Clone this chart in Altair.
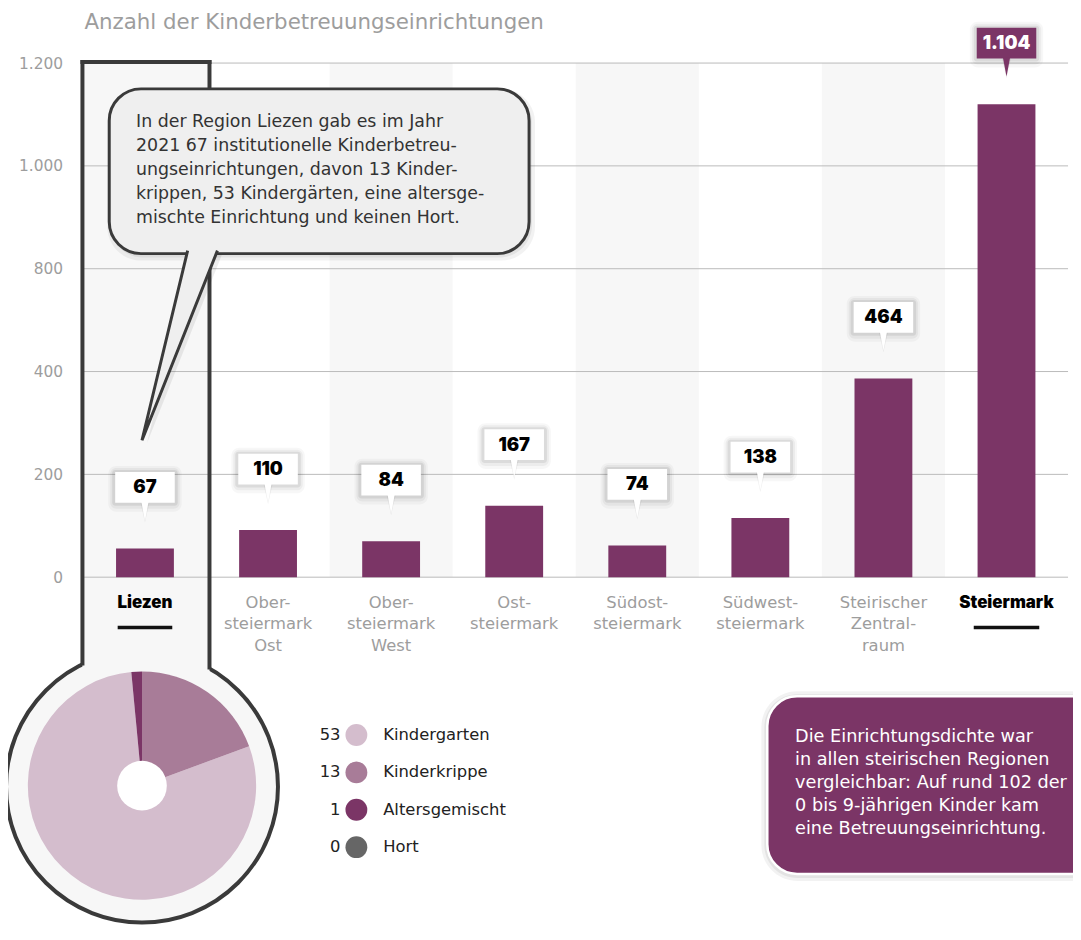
import json
import altair as alt
import pandas as pd

# ---------------- data ----------------
regions = ["Liezen", "Obersteiermark Ost", "Obersteiermark West", "Oststeiermark",
           "Südoststeiermark", "Südweststeiermark", "Steirischer Zentralraum", "Steiermark"]
region_labels = ["Liezen", "Ober-\nsteiermark\nOst", "Ober-\nsteiermark\nWest", "Ost-\nsteiermark",
                 "Südost-\nsteiermark", "Südwest-\nsteiermark", "Steirischer\nZentral-\nraum", "Steiermark"]
facilities = [67, 110, 84, 167, 74, 138, 464, 1104]
facility_labels = ["67", "110", "84", "167", "74", "138", "464", "1.104"]
highlighted = ["Liezen", "Steiermark"]
shaded = ["Obersteiermark West", "Südoststeiermark", "Steirischer Zentralraum"]

y_tick_positions = [0, 240, 480, 720, 960, 1200]
y_tick_labels = ["0", "200", "400", "800", "1.000", "1.200"]

types = ["Kindergarten", "Kinderkrippe", "Altersgemischt", "Hort"]
type_counts = [53, 13, 1, 0]
pie_order = [2, 1, 3, 4]

title_text = "Anzahl der Kinderbetreuungseinrichtungen"
bubble_text = ("In der Region Liezen gab es im Jahr\n2021 67 institutionelle Kinderbetreu-\n"
               "ungseinrichtungen, davon 13 Kinder-\nkrippen, 53 Kindergärten, eine altersge-\n"
               "mischte Einrichtung und keinen Hort.")
note_text = ("Die Einrichtungsdichte war\nin allen steirischen Regionen\nvergleichbar: Auf rund 102 der\n"
             "0 bis 9-jährigen Kinder kam\neine Betreuungseinrichtung.")

# ---------------- styles ----------------
FONT = "DejaVu Sans"
BOLD_FONT = "Inter"
PURPLE = "#7b3566"
type_colors = ["#d4bdcd", "#a87c98", "#7b3566", "#666666"]
DARK = "#3a3a3a"
GRAY_TXT = "#9d9d9d"
PANEL = "#f7f7f7"
BUBBLE = "#efefef"

df = pd.DataFrame({"region": regions, "label": region_labels, "n": facilities, "n_label": facility_labels})
dft = pd.DataFrame({"type": types, "count": type_counts, "order": pie_order})
one = pd.DataFrame({"k": [0]})

label_expr = " : ".join(f"datum.value == {p} ? '{l}'" for p, l in zip(y_tick_positions, y_tick_labels)) + " : ''"
YAX = alt.Axis(values=y_tick_positions, labelExpr=label_expr, grid=False, domain=False, ticks=False,
               labelPadding=21, labelFontSize=15.5, labelColor=GRAY_TXT, labelFont=FONT,
               labelFlush=False, title=None)

X = alt.X("region:N", sort=regions,
          scale=alt.Scale(domain=regions, paddingInner=0.53, paddingOuter=0.265), axis=None)
YS = alt.Scale(domain=[0, 1200], nice=False, zero=True)
Y = alt.Y("n:Q", scale=YS, axis=YAX)
Y2 = alt.Y2("n")
COLOR = alt.Color("type:N", scale=alt.Scale(domain=types, range=type_colors), legend=None)

hl_test = f"indexof({json.dumps(highlighted)}, datum.region) >= 0"
sh_test = f"indexof({json.dumps(shaded)}, datum.region) >= 0"


def deco():
    return alt.Chart(one)


# background stripes
stripes = alt.Chart(df).transform_filter(sh_test).transform_calculate(top="1200").mark_bar(
    width=124, color=PANEL).encode(x=X, y=alt.Y("top:Q", scale=YS, axis=YAX))

# thermometer frame (circle radius 137 -> symbol size (2r)^2)
circle_frame = deco().mark_point(shape="circle", size=274 ** 2, filled=True, fill=PANEL, stroke=DARK,
                                 strokeWidth=4, opacity=1).encode(x=alt.value(59), y=alt.value(729))
stem_fill = deco().mark_rect(fill=PANEL).encode(x=alt.value(-1), x2=alt.value(127), y=alt.value(-1), y2=alt.value(640))

grid = alt.Chart(pd.DataFrame({"pos": y_tick_positions})).mark_rule(color="#bababa", strokeWidth=1).encode(
    y=alt.Y("pos:Q", scale=YS, axis=YAX),
    x=alt.value(0), x2=alt.value(992))

stem_left = deco().mark_rule(color=DARK, strokeWidth=4, strokeCap="square").encode(
    x=alt.value(-1), y=alt.value(-1), y2=alt.value(605))
stem_right = deco().mark_rule(color=DARK, strokeWidth=4, strokeCap="square").encode(
    x=alt.value(127), y=alt.value(-1), y2=alt.value(609))
stem_top = deco().mark_rule(color=DARK, strokeWidth=4, strokeCap="square").encode(
    x=alt.value(-1), x2=alt.value(127), y=alt.value(-1))

bars = alt.Chart(df).mark_bar(color=PURPLE).encode(x=X, y=Y)

box_shadows = [
    alt.Chart(df).mark_bar(width=w, yOffset=t, y2Offset=b, color="black", opacity=o, cornerRadius=r).encode(
        x=X, y=Y, y2=Y2)
    for (w, t, b, o, r) in [(74, -83, -37, 0.03, 8), (70, -81, -40, 0.045, 6), (66, -79, -43, 0.07, 3)]
]
box_color = alt.condition("datum.region == 'Steiermark'", alt.value(PURPLE), alt.value("white"))
text_color = alt.condition("datum.region == 'Steiermark'", alt.value("white"), alt.value("black"))
boxes = alt.Chart(df).mark_bar(width=60, yOffset=-77, y2Offset=-46).encode(x=X, y=Y, y2=Y2, color=box_color)
tri_shadow = alt.Chart(df).mark_point(shape="M-0.45,-1L0.45,-1L0,1Z", size=400, filled=True, opacity=0.06,
                                      yOffset=-36, color="black").encode(x=X, y=Y)
tris = alt.Chart(df).mark_point(shape="M-0.4,-1.1L0.4,-1.1L0,1Z", size=324, filled=True, opacity=1,
                                yOffset=-37).encode(x=X, y=Y, color=box_color)
box_text = alt.Chart(df).mark_text(fontSize=18.5, fontWeight=900, font=BOLD_FONT, yOffset=-61.5,
                                   baseline="middle").encode(x=X, y=Y, text="n_label:N", color=text_color)

xlab_normal = alt.Chart(df).transform_filter(f"!({hl_test})").mark_text(
    lineBreak="\n", baseline="top", fontSize=16.5, lineHeight=21.5, color=GRAY_TXT, font=FONT).encode(
    x=X, y=alt.value(536), text="label:N")
xlab_high = alt.Chart(df).transform_filter(hl_test).mark_text(
    lineBreak="\n", baseline="top", fontSize=17, fontWeight=900, lineHeight=21.5, color="black",
    font=BOLD_FONT).encode(x=X, y=alt.value(536), text="label:N")
underline_a = alt.Chart(df).transform_filter("datum.region == 'Liezen'").mark_bar(width=55, color="#111").encode(
    x=X, y=alt.value(567), y2=alt.value(570.5))
underline_b = alt.Chart(df).transform_filter("datum.region == 'Steiermark'").mark_bar(width=66, color="#111").encode(
    x=X, y=alt.value(567), y2=alt.value(570.5))

# pie
pie = alt.Chart(dft).mark_arc(radius=115, innerRadius=0).encode(
    theta=alt.Theta("count:Q", stack=True), color=COLOR, order=alt.Order("order:Q"),
    x=alt.value(59), y=alt.value(728))
hole = deco().mark_point(shape="circle", size=50 ** 2, filled=True, color="white", opacity=1).encode(
    x=alt.value(59), y=alt.value(728))

# callout bubble
TAIL = "M0.08,-0.96L-0.38,0.95L0.38,-0.96"
tail_shadow = deco().mark_point(shape="M0.08,-0.96L-0.38,0.95L0.38,-0.96Z", size=40000, filled=True,
                                color="black", opacity=0.07).encode(x=alt.value(102), y=alt.value(288))
bubble_shadow1 = deco().mark_rect(cornerRadius=34, color="black", opacity=0.05).encode(
    x=alt.value(24), x2=alt.value(455), y=alt.value(26), y2=alt.value(199))
bubble_shadow2 = deco().mark_rect(cornerRadius=33, color="black", opacity=0.06).encode(
    x=alt.value(27), x2=alt.value(452), y=alt.value(28), y2=alt.value(196))
bubble = deco().mark_rect(cornerRadius=32, fill=BUBBLE, stroke=DARK, strokeWidth=3).encode(
    x=alt.value(26), x2=alt.value(449), y=alt.value(26), y2=alt.value(192))
tail = deco().mark_point(shape=TAIL, size=40000, filled=True, fill=BUBBLE, stroke=DARK, strokeWidth=3,
                         opacity=1, strokeJoin="miter").encode(x=alt.value(97), y=alt.value(285))
bubble_txt = deco().mark_text(text=bubble_text, lineBreak="\n", align="left", baseline="top", fontSize=17.5,
                              lineHeight=24.3, color="#333333", font=FONT).encode(x=alt.value(53), y=alt.value(50))

title = deco().mark_text(text=title_text, align="left", baseline="middle", fontSize=21.5, color=GRAY_TXT,
                         font=FONT).encode(x=alt.value(1), y=alt.value(-40))

# note box bottom right
note_shadow1 = deco().mark_rect(cornerRadius=36, color="black", opacity=0.05).encode(
    x=alt.value(683), x2=alt.value(1040), y=alt.value(633), y2=alt.value(824))
note_shadow2 = deco().mark_rect(cornerRadius=33, color="black", opacity=0.06).encode(
    x=alt.value(686), x2=alt.value(1036), y=alt.value(636), y2=alt.value(821))
note_box = deco().mark_rect(cornerRadius=30, fill=PURPLE, stroke="white", strokeWidth=2.5).encode(
    x=alt.value(689), x2=alt.value(1030), y=alt.value(638), y2=alt.value(817))
note_txt = deco().mark_text(text=note_text, lineBreak="\n", align="left", baseline="top", fontSize=17.8,
                            lineHeight=23.3, color="white", font=FONT).encode(x=alt.value(717), y=alt.value(670))

main = alt.layer(
    stripes, circle_frame, stem_fill, grid, stem_left, stem_right, stem_top, bars,
    *box_shadows, tri_shadow, boxes, tris, box_text,
    xlab_normal, xlab_high, underline_a, underline_b,
    pie, hole,
    tail_shadow, bubble_shadow1, bubble_shadow2, bubble, tail, bubble_txt,
    title, note_shadow1, note_shadow2, note_box, note_txt,
)

# legend next to pie
LY = alt.Y("type:N", sort=types, scale=alt.Scale(type="point", domain=types, range=[677, 790], padding=0),
           axis=None)
leg_dots = alt.Chart(dft).mark_circle(size=22 ** 2, opacity=1).encode(x=alt.value(275), y=LY, color=COLOR)
leg_nums = alt.Chart(dft).mark_text(align="right", baseline="middle", fontSize=16.5, color="#222222", font=FONT).encode(
    x=alt.value(259), y=LY, text="count:Q")
leg_text = alt.Chart(dft).mark_text(align="left", baseline="middle", fontSize=16.5, color="#222222", font=FONT).encode(
    x=alt.value(302), y=LY, text="type:N")
legend = alt.layer(leg_dots, leg_nums, leg_text)

chart = alt.layer(main, legend).resolve_scale(y="independent").properties(
    width=992, height=518,
    padding={"left": 76, "top": 52, "right": 5, "bottom": 355},
    autosize=alt.AutoSizeParams(type="none"),
    background="white",
).configure_view(strokeWidth=0)

chart.save("out.html", embed_options={"renderer": "svg", "actions": False})
